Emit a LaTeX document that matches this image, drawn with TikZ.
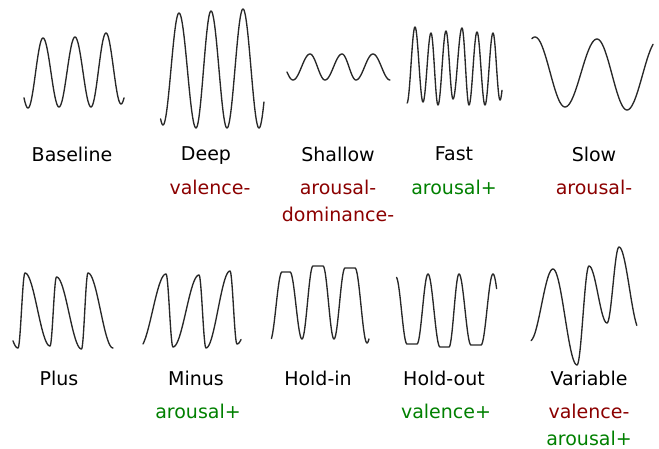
\documentclass[tikz,border=0pt]{standalone}
\usepackage{fontspec}
\setmainfont{DejaVu Sans}
\definecolor{negc}{RGB}{139,0,0}
\definecolor{posc}{RGB}{0,128,0}
\definecolor{wavec}{RGB}{40,40,40}
% half-cosine segment from extremum (#1,#2) to extremum (#3,#4), parameter range #5..#6
\newcommand\hcA[6]{plot[domain=#5:#6,samples=30,variable=\t] ({#1+(#3-#1)*\t},{#2+(#4-#2)*(1-cos(180*\t))/2})}
\newcommand\hcB[4]{-- plot[domain=0:1,samples=30,variable=\t] ({#1+(#3-#1)*\t},{#2+(#4-#2)*(1-cos(180*\t))/2})}
\newcommand\hcC[6]{-- plot[domain=#5:#6,samples=30,variable=\t] ({#1+(#3-#1)*\t},{#2+(#4-#2)*(1-cos(180*\t))/2})}
\tikzset{
  wave/.style={draw=wavec, line width=1.35pt, line join=round, line cap=round},
  lbl/.style={anchor=base, inner sep=0pt, font=\fontsize{19}{22}\selectfont, text=black},
  neglbl/.style={lbl, text=negc},
  poslbl/.style={lbl, text=posc}
}
\begin{document}
\begin{tikzpicture}[x=1pt,y=-1pt]
\useasboundingbox (0,0) rectangle (659,449);
% ---- Row 1 waves
% Baseline
\draw[wave] \hcA{12}{38}{28}{108}{0.75}{1} \hcB{28}{108}{43}{38} \hcB{43}{38}{59}{107}
  \hcB{59}{107}{75}{37} \hcB{75}{37}{91}{107} \hcB{91}{107}{106}{33} \hcB{106}{33}{121}{104}
  \hcC{121}{104}{137}{33}{0}{0.19};
% Deep
\draw[wave] \hcA{147}{13}{163}{125}{0.85}{1} \hcB{163}{125}{179}{13} \hcB{179}{13}{196}{128}
  \hcB{196}{128}{211}{11} \hcB{211}{11}{227}{128} \hcB{227}{128}{243}{9} \hcB{243}{9}{259}{128}
  \hcC{259}{128}{275}{9}{0}{0.31};
% Shallow
\draw[wave] \hcA{277}{54}{293}{80}{0.625}{1} \hcB{293}{80}{310}{54} \hcB{310}{54}{325}{80}
  \hcB{325}{80}{342}{54} \hcB{342}{54}{356}{80} \hcB{356}{80}{373}{54} \hcB{373}{54}{390}{80};
% Fast
\draw[wave] \hcA{407}{103}{415}{27}{0}{1} \hcB{415}{27}{423}{102} \hcB{423}{102}{431}{33}
  \hcB{431}{33}{438}{105} \hcB{438}{105}{446}{31} \hcB{446}{31}{453}{99} \hcB{453}{99}{462}{28}
  \hcB{462}{28}{469}{105} \hcB{469}{105}{477}{32} \hcB{477}{32}{485}{105} \hcB{485}{105}{493}{33}
  \hcB{493}{33}{500}{100} \hcC{500}{100}{508}{33}{0}{0.25};
% Slow
\draw[wave] \hcA{504}{107}{535}{37}{0.9}{1} \hcB{535}{37}{565}{107} \hcB{565}{107}{597}{39}
  \hcB{597}{39}{627}{110} \hcC{627}{110}{658}{40}{0}{0.84};
% ---- Row 2 waves
% Plus
\draw[wave] \hcA{-7}{273}{18}{348}{0.8}{1} \hcB{18}{348}{25}{273} \hcB{25}{273}{50}{346}
  \hcB{50}{346}{56.5}{277} \hcB{56.5}{277}{81.5}{349} \hcB{81.5}{349}{88}{273} \hcB{88}{273}{113}{348};
% Minus
\draw[wave] \hcA{139}{348}{166}{274}{0.15}{1} \hcB{166}{274}{173}{347} \hcB{173}{347}{199}{275}
  \hcB{199}{275}{206}{348} \hcB{206}{348}{230}{271} \hcB{230}{271}{237}{344}
  \hcC{237}{344}{262}{271}{0}{0.16};
% Hold-in
\draw[wave] \hcA{270}{341}{282}{272}{0.12}{1} -- (290,272) \hcB{290}{272}{302}{339}
  \hcB{302}{339}{313}{266} -- (323,266) \hcB{323}{266}{334}{339}
  \hcB{334}{339}{345}{268} -- (355,268) \hcB{355}{268}{367}{343}
  \hcC{367}{343}{380}{268}{0}{0.15};
% Hold-out
\draw[wave] \hcA{396}{277}{407}{344}{0.05}{1} -- (417,344) \hcB{417}{344}{428}{274}
  \hcB{428}{274}{440}{347} -- (449,347) \hcB{449}{347}{459}{274}
  \hcB{459}{274}{471}{345} -- (481,345) \hcB{481}{345}{493}{274}
  \hcC{493}{274}{505}{345}{0}{0.3};
% Variable
\draw[wave] \hcA{530}{341}{553}{269}{0.05}{1} \hcB{553}{269}{577}{365} \hcB{577}{365}{589}{266}
  \hcB{589}{266}{607}{323} \hcB{607}{323}{619}{247} \hcC{619}{247}{640}{330}{0}{0.85};
% ---- Labels row 1
\node[lbl] (baseline) at (72,162) {Baseline};
\node[lbl] (deep) at (206,161) {Deep};
\node[neglbl] (deepv) at (210,195) {valence-};
\node[lbl] (shallow) at (338,162) {Shallow};
\node[neglbl] (shallowa) at (338,195) {arousal-};
\node[neglbl] (shallowd) at (338,222) {dominance-};
\node[lbl] (fast) at (454,161) {Fast};
\node[poslbl] (fasta) at (454,195) {arousal+};
\node[lbl] (slow) at (594,162) {Slow};
\node[neglbl] (slowa) at (594,195) {arousal-};
% ---- Labels row 2
\node[lbl] (plus) at (59,385) {Plus};
\node[lbl] (minus) at (196,385) {Minus};
\node[poslbl] (minusa) at (198,418) {arousal+};
\node[lbl] (holdin) at (318,385) {Hold-in};
\node[lbl] (holdout) at (444,385) {Hold-out};
\node[poslbl] (holdoutv) at (446,418) {valence+};
\node[lbl] (variable) at (589,385) {Variable};
\node[neglbl] (variablev) at (589,418) {valence-};
\node[poslbl] (variablea) at (589,445) {arousal+};
\end{tikzpicture}
\end{document}
